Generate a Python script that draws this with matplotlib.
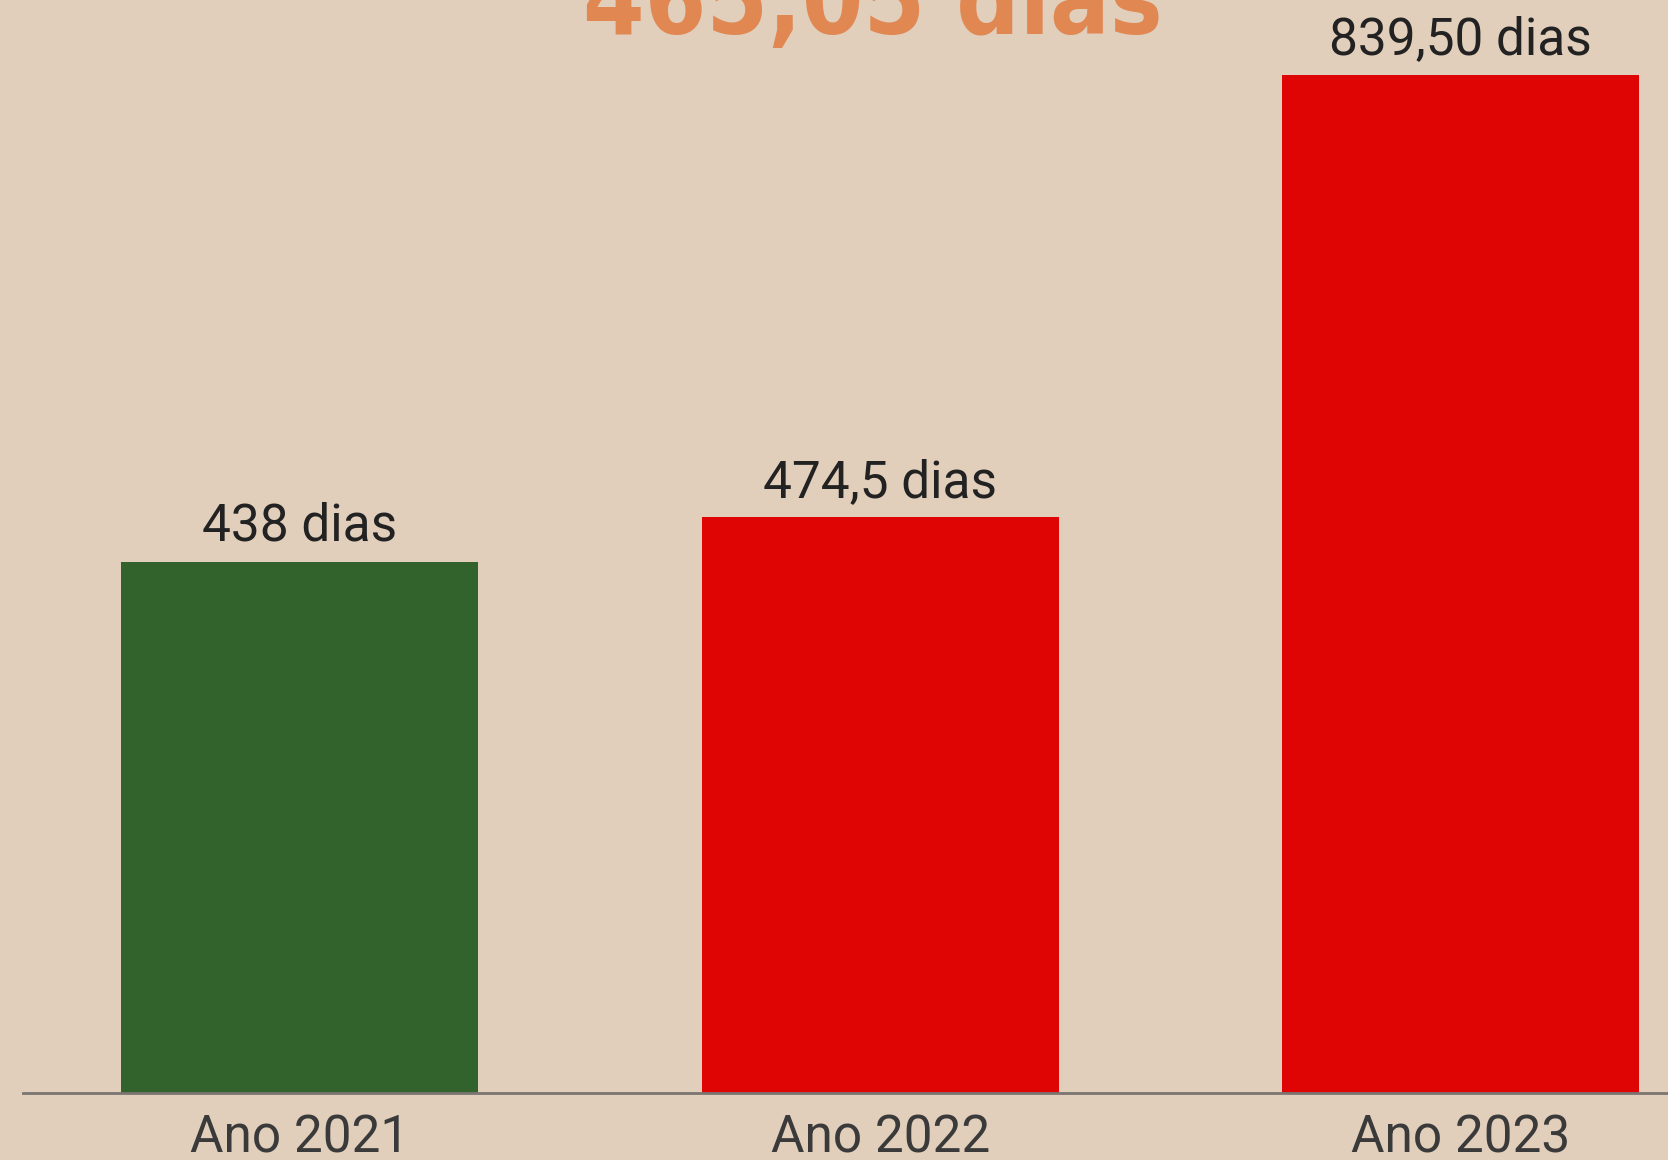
import matplotlib
matplotlib.use("Agg")
import matplotlib.pyplot as plt

categories = ["Ano 2021", "Ano 2022", "Ano 2023"]
values = [438, 474.5, 839.5]
value_labels = ["438 dias", "474,5 dias", "839,50 dias"]
bar_colors = ["#33632d", "#e00505", "#e00505"]
title_text = "465,05 dias"

bg = "#e1cebb"
fig = plt.figure(figsize=(16.68, 11.6), dpi=100, facecolor=bg)
ax = fig.add_axes([23/1668, 67/1160, 1 - 23/1668, 1093/1160])
ax.set_facecolor(bg)

x = list(range(len(categories)))
ax.bar(x, values, width=0.615, color=bar_colors, zorder=2)
ax.set_xlim(-0.477, 2.357)
ax.set_ylim(0, 901)

for xi, v, lab in zip(x, values, value_labels):
    ax.text(xi, v + 8, lab, ha="center", va="bottom", fontsize=37,
            family="Roboto", color="#222222")

for s in ["top", "right", "left"]:
    ax.spines[s].set_visible(False)
ax.spines["bottom"].set_color("#7a7571")
ax.spines["bottom"].set_linewidth(2)
ax.set_yticks([])
ax.set_xticks(x)
ax.set_xticklabels(categories, fontsize=37, family="Roboto", color="#3a3a3a")
ax.tick_params(axis="x", length=0, pad=15)

fig.text(873/1668, 1 - 34/1160, title_text, ha="center", va="baseline",
         fontsize=71, fontweight="heavy", fontstretch="condensed",
         color="#e08752", family="DejaVu Sans")

fig.savefig("out.png", dpi=100, facecolor=bg)
